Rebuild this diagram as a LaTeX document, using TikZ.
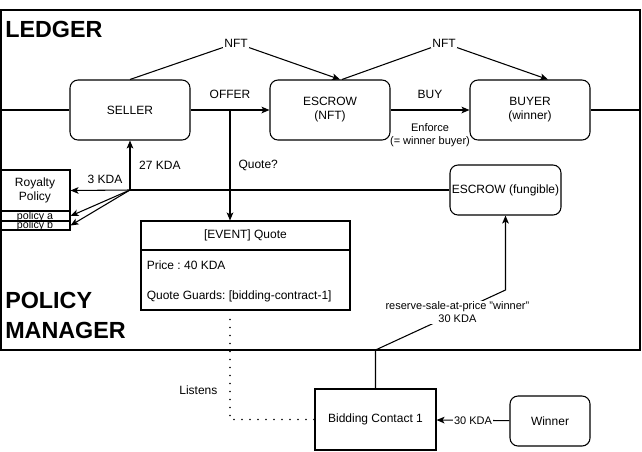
\documentclass[tikz,border=0pt]{standalone}
\usepackage{fontspec}
\setmainfont{Liberation Sans}
\usepackage{tikz}
\usetikzlibrary{arrows,arrows.meta,positioning,shapes,calc}
\frenchspacing

\begin{document}
\begin{tikzpicture}[x = .75pt, y = -.75pt, >={Stealth[length = 6pt, width = 5pt, inset = 1.5pt]},
  box/.style = {draw, thick, rounded corners = 6pt, inner sep = 0pt, align = center, font = \fontsize{9pt}{10.5pt}\selectfont},
  sqbox/.style = {draw, thick, inner sep = 0pt, align = center, font = \fontsize{9pt}{10.5pt}\selectfont},
  lbl/.style = {inner sep = 1pt, font = \fontsize{9pt}{10.5pt}\selectfont},
  smlbl/.style = {inner sep = 1pt, align = center, font = \fontsize{8.25pt}{9.5pt}\selectfont},
  title/.style = {inner sep = 0pt, anchor = base west, font = \fontsize{17.5pt}{20pt}\selectfont\bfseries}]
\useasboundingbox (0, 0) rectangle (642, 451);

% outer frame and titles
\node[draw, thick, minimum width = 479.25pt, minimum height = 255pt] (frame) at (320.5, 180) {};
\node[title] (ledger) at (5, 37) {LEDGER};
\node[title] (pmA) at (5, 308) {POLICY};
\node[title] (pmB) at (5, 338) {MANAGER};

% ledger row
\node[box, minimum width = 90pt, minimum height = 45pt] (seller) at (130, 110) {SELLER};
\node[box, minimum width = 90pt, minimum height = 45pt] (escrownft) at (330, 110) {ESCROW\\(NFT)};
\node[box, minimum width = 90pt, minimum height = 45pt] (buyer) at (530, 110) {BUYER\\(winner)};

\draw[thick] (frame.west |- seller) -- (seller.west);
\draw[thick] (buyer.east) -- (frame.east |- buyer);
\draw[->, thick] (seller) -- (escrownft) node[lbl, midway, above = 7pt] (offer) {OFFER};
\draw[->, thick] (escrownft) -- (buyer)
  node[lbl, midway, above = 7pt] (buy) {BUY}
  node[smlbl, midway, below = 9pt] (enforce) {Enforce\\(= winner buyer)};

\coordinate (nftA) at (236, 43);
\coordinate (nftB) at (444, 43);
\draw[->, thick] (seller.north) -- (nftA) -- ($(escrownft.north) + (10, 0)$);
\draw[->, thick] ($(escrownft.north) + (12, 0)$) -- (nftB) -- ($(buyer.north) + (18, 0)$);
\node[lbl, fill = white] (nftAlbl) at (nftA) {NFT};
\node[lbl, fill = white] (nftBlbl) at (nftB) {NFT};

% royalty policy
\node[sqbox, minimum width = 52.5pt, minimum height = 30.75pt] (royalty) at (35, 190.5) {Royalty\\Policy};
\node[sqbox, minimum width = 52.5pt, minimum height = 7.5pt, text height = 5pt, text depth = 0pt, font = \fontsize{8pt}{8pt}\selectfont] (pola) at (35, 216) {policy a};
\node[sqbox, minimum width = 52.5pt, minimum height = 6.75pt, text height = 5pt, text depth = 0pt, font = \fontsize{8pt}{8pt}\selectfont] (polb) at (35, 225.5) {policy b};

\node[box, minimum width = 83.25pt, minimum height = 37.5pt] (escrowfung) at (505.5, 190) {ESCROW (fungible)};

\coordinate (split) at (130, 190);
\draw[thick] (escrowfung.west) -- (split);
\draw[->, thick] (split) -- (seller.south) node[lbl, midway, right = 5.5pt] (kda27) {27 KDA};
\draw[->, thick] (split) -- (royalty.east) node[lbl, pos = .42, above = 3.5pt] (kda3) {3 KDA};
\draw[->, thick] (split) -- (pola.east);
\draw[->, thick] (split) -- (polb.east);

% quote event
\node[sqbox, minimum width = 156.75pt, minimum height = 21.75pt] (quotehead) at (245.5, 235.5) {[EVENT] Quote};
\node[sqbox, minimum width = 156.75pt, minimum height = 45pt] (quotebody) at (245.5, 280) {};
\node[lbl, inner sep = 0pt, anchor = base west] (price) at (146.5, 269) {Price : 40 KDA};
\node[lbl, inner sep = 0pt, anchor = base west] (guards) at (146.5, 299) {Quote Guards: [bidding-contract-1]};

\coordinate (offerdrop) at (230, 110);
\draw[->, thick] (offerdrop) -- (offerdrop |- quotehead.north) node[lbl, midway, right = 5pt] (quoteq) {Quote?};

% bidding contract
\node[sqbox, minimum width = 90.75pt, minimum height = 45.75pt] (bidding) at (375.5, 419.5) {Bidding Contact 1};
\node[box, minimum width = 60pt, minimum height = 37.5pt] (winner) at (550, 421) {Winner};

\draw[line width = 1.3pt, line cap = round, dash pattern = on 0pt off 6pt] ($(offerdrop |- quotebody.south) + (0, 9)$) |- (bidding.west);
\node[lbl, anchor = east] (listens) at (219, 390) {Listens};

\draw[->, thick] (winner) -- (bidding) node[smlbl, midway, fill = white] (kda30) {30 KDA};
\draw[->, thick] (bidding.north) -- (bidding.north |- 0, 350)
  -- node[smlbl, pos = .63, fill = white] (reserve) {reserve-sale-at-price "winner"\\30 KDA} (escrowfung.south |- 0, 290)
  -- (escrowfung.south);

\end{tikzpicture}
\end{document}
